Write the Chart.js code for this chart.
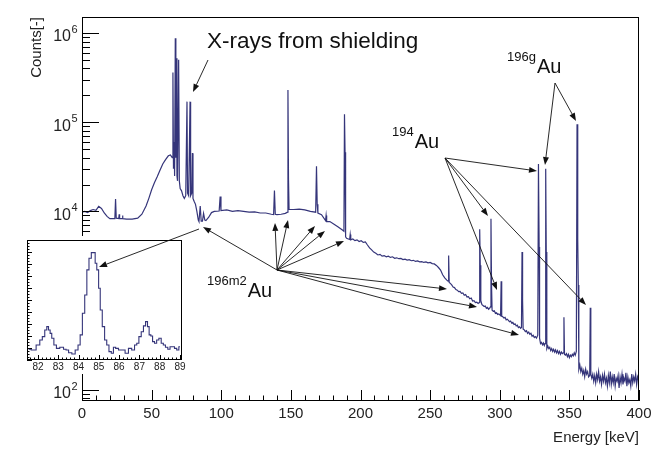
<!DOCTYPE html>
<html>
<head>
<meta charset="utf-8">
<script src="https://cdn.jsdelivr.net/npm/chart.js@4.4.1/dist/chart.umd.min.js"></script>
<style>
  html, body { margin: 0; padding: 0; background: #fff; }
  #wrap { position: relative; width: 660px; height: 453px; }
  #main { position: absolute; left: 0; top: 0; width: 660px; height: 453px; }
  #inset { position: absolute; left: 20px; top: 236px; width: 172px; height: 138px; }
</style>
</head>
<body>
<div id="wrap">
  <canvas id="main" width="660" height="453"></canvas>
  <canvas id="inset" width="172" height="138"></canvas>
</div>
<script>
// spectrum (energy in keV, counts per bin)
const energyKeV = [
  0, 2, 4, 6, 8, 10, 12, 14, 16, 18, 20, 23.6,
  24.1, 24.6, 26.4, 26.7, 27.0, 28.8, 29.1, 29.4, 32, 36, 40, 43,
  46, 48, 50, 52, 54, 56, 58, 60, 62, 63.5, 64.8, 65.3,
  65.7, 66.2, 66.5, 67.0, 67.4, 67.8, 68.2, 68.6, 69.4, 69.9, 70.5, 71.5,
  72.5, 73.5, 74.5, 75.4, 75.8, 76.6, 77.6, 78.0, 78.8, 79.3, 79.7, 80.5,
  81.5, 82.5, 83.5, 84.0, 84.9, 85.6, 86.5, 87.3, 88.2, 89, 91, 93,
  95, 98.5, 99.2, 99.8, 104, 108, 112, 116, 120, 124, 128, 132,
  136, 137.6, 138.2, 138.8, 140, 143, 146, 147.6, 147.9, 148.3, 148.7, 152,
  156, 160, 164, 167.8, 168.4, 168.9, 169.4, 172, 174.9, 175.3, 175.7, 178,
  181, 184, 187, 188.1, 188.5, 188.9, 189.3, 190, 192.2, 192.6, 193.0, 194.5,
  196, 197.5, 199, 200.5, 202, 203.5, 205, 206.5, 208, 209.5, 211, 212.5,
  214, 215.5, 217, 218.5, 220, 221.5, 223, 224.5, 226, 227.5, 229, 230.5,
  232, 233.5, 235, 236.5, 238, 239.5, 241, 242.5, 244, 245.5, 247, 248.5,
  250, 251.5, 253, 254.5, 256, 257.5, 259, 260.5, 262, 262.9, 263.3, 263.7,
  264.5, 265.5, 266.5, 267.5, 268.5, 269.5, 270.5, 271.5, 272.5, 273.5, 274.5, 275.5,
  276.5, 277.5, 278.5, 279.5, 280.5, 281.5, 282.5, 283.5, 284.5, 285.2, 285.6, 286.0,
  286.4, 287.2, 288, 288.8, 289.6, 290.4, 291.2, 292, 292.7, 293.3, 293.7, 294.1,
  294.5, 295.3, 296.1, 296.9, 297.7, 298.5, 299.3, 300.2, 300.6, 301.0, 301.4, 302.2,
  303, 303.8, 304.6, 305.4, 306.2, 307, 307.8, 308.6, 309.4, 310.2, 311, 311.8,
  312.6, 313.4, 314.2, 315, 315.6, 316.0, 316.4, 316.8, 317.6, 318.4, 319.2, 320,
  320.8, 321.6, 322.4, 323.2, 324, 324.8, 325.6, 326.4, 327.3, 327.8, 328.3, 328.6,
  329.3, 330, 330.7, 331.4, 332, 332.5, 333.0, 333.4, 333.8, 334.5, 335.2, 335.9,
  336.6, 337.3, 338, 338.7, 339.4, 340.1, 340.8, 341.5, 342.2, 342.9, 343.6, 344.3,
  345, 345.7, 346.1, 346.5, 347.2, 347.9, 348.6, 349.3, 350, 350.7, 351.4, 352.1,
  352.8, 353.5, 354.2, 355.0, 355.5, 356.0, 356.4, 356.8, 357.5, 358.2, 358.9, 359.6,
  360.3, 361.0, 361.7, 362.4, 363.1, 363.8, 364.6, 365.0, 365.4, 366.1, 366.8, 367.5,
  368.2, 368.9, 369.6, 370.3, 371.0, 371.7, 372.4, 373.1, 373.8, 374.5, 375.2, 375.9,
  376.6, 377.3, 378.0, 378.7, 379.4, 380.1, 380.8, 381.5, 382.2, 382.9, 383.6, 384.3,
  385.0, 385.7, 386.4, 387.1, 387.8, 388.5, 389.2, 389.9, 390.6, 391.3, 392.0, 392.7,
  393.4, 394.1, 394.8, 395.5, 396.2, 396.9, 397.6, 398.3, 399.0, 399.6, 400
];
const counts = [
  9800, 10000, 9700, 10200, 10500, 10300, 11400, 10800, 9600, 8800, 8300, 8300,
  13800, 8400, 8300, 9300, 8300, 8300, 9000, 8300, 8200, 8200, 8400, 9300,
  11500, 14000, 17500, 21000, 24500, 29000, 34000, 38000, 42000, 43000, 40000, 360000,
  30000, 60000, 25000, 870000, 40000, 520000, 25000, 22000, 500000, 22000, 18000, 17000,
  15000, 14000, 15000, 170000, 16000, 15000, 170000, 15000, 16000, 45000, 14000, 13000,
  12000, 10000, 8000, 7700, 11500, 7800, 7800, 9500, 8000, 7900, 8600, 9700,
  10000, 10100, 14700, 10200, 10400, 10000, 10200, 10000, 9800, 9900, 9600, 9600,
  9300, 9200, 17200, 9300, 9200, 9300, 9500, 9800, 230000, 23000, 10500, 10500,
  10600, 10400, 10000, 9800, 32000, 12000, 9600, 9200, 7900, 9000, 7700, 7700,
  7200, 6700, 6200, 6000, 123000, 46000, 5200, 5000, 4850, 5500, 4800, 4900,
  4700, 4800, 4600, 4700, 4500, 4550, 4200, 3900, 3700, 3500, 3400, 3250,
  3300, 3150, 3200, 3100, 3150, 3050, 3100, 2980, 3020, 2950, 2970, 2880,
  2920, 2850, 2880, 2800, 2830, 2750, 2790, 2720, 2740, 2680, 2720, 2650,
  2680, 2600, 2580, 2480, 2350, 2200, 1950, 1800, 1700, 1650, 3200, 1600,
  1560, 1500, 1420, 1400, 1330, 1310, 1260, 1270, 1210, 1220, 1150, 1170,
  1100, 1110, 1050, 1070, 990, 1000, 950, 960, 930, 950, 6300, 2500,
  1000, 900, 880, 860, 870, 820, 840, 800, 820, 850, 8300, 1500,
  780, 760, 770, 720, 730, 700, 710, 690, 680, 1650, 670, 660,
  640, 650, 610, 620, 600, 580, 590, 560, 570, 540, 550, 520,
  530, 500, 510, 490, 500, 3500, 1000, 480, 470, 450, 460, 430,
  445, 420, 430, 400, 410, 385, 395, 380, 410, 34000, 4000, 380,
  330, 340, 320, 335, 315, 330, 30000, 3500, 290, 310, 290, 300,
  275, 290, 270, 285, 265, 280, 260, 275, 255, 270, 250, 265,
  255, 260, 650, 250, 245, 255, 235, 250, 230, 245, 235, 250,
  240, 260, 245, 270, 95000, 5000, 1500, 170, 190, 160, 175, 150,
  165, 140, 170, 150, 160, 140, 145, 830, 150, 135, 150, 125,
  145, 120, 150, 130, 160, 125, 140, 115, 145, 125, 150, 120,
  135, 110, 145, 120, 160, 115, 140, 120, 150, 110, 135, 125,
  145, 105, 140, 120, 150, 115, 135, 125, 155, 110, 140, 120,
  130, 110, 150, 120, 140, 125, 150, 115, 140, 130, 145
];

// inset: zoom on the 82-89 keV region
const insetEnergy = [
  81.54, 81.79, 82.03, 82.15, 82.28, 82.39, 82.48, 82.56, 82.64, 82.72, 82.85, 82.97,
  83.18, 83.34, 83.43, 83.59, 83.75, 83.92, 84.03, 84.13, 84.25, 84.36, 84.46, 84.57,
  84.69, 84.79, 84.85, 84.95, 85.03, 85.11, 85.23, 85.34, 85.44, 85.56, 85.67, 85.77,
  85.89, 86.05, 86.21, 86.38, 86.54, 86.70, 86.82, 86.92, 87.03, 87.15, 87.25, 87.36,
  87.44, 87.52, 87.61, 87.69, 87.80, 87.90, 88.02, 88.13, 88.23, 88.34, 88.46, 88.56,
  88.67, 88.79, 88.89, 89.00
];
const insetCounts = [
  89, 83, 125, 167, 195, 250, 278, 250, 222, 181, 125, 97,
  106, 89, 83, 61, 50, 83, 125, 209, 389, 542, 751, 848,
  895, 895, 806, 751, 598, 417, 278, 167, 125, 70, 56, 106,
  97, 83, 83, 56, 97, 83, 125, 139, 195, 236, 284, 320,
  278, 209, 200, 153, 139, 167, 181, 139, 125, 106, 89, 111,
  111, 97, 83, 111
];

const yDecades = [2, 3, 4, 5, 6];   // labelled 10^n ticks
const FONT = "'Liberation Sans', Arial, Helvetica, sans-serif";
const LINE = '#35357a';
const INK = '#222';

function drawArrow(ctx, x1, y1, x2, y2) {
  const ang = Math.atan2(y2 - y1, x2 - x1);
  const L = 8, W = 3;
  const bx = x2 - L * Math.cos(ang), by = y2 - L * Math.sin(ang);
  ctx.beginPath();
  ctx.moveTo(x1, y1);
  ctx.lineTo(bx, by);
  ctx.stroke();
  ctx.beginPath();
  ctx.moveTo(x2, y2);
  ctx.lineTo(bx + W * Math.sin(ang), by - W * Math.cos(ang));
  ctx.lineTo(bx - W * Math.sin(ang), by + W * Math.cos(ang));
  ctx.closePath();
  ctx.fill();
}

function nuclide(ctx, sup, x, y) {
  ctx.textAlign = 'left';
  ctx.textBaseline = 'alphabetic';
  ctx.font = '13px ' + FONT;
  ctx.fillText(sup, x, y - 12);
  const w = ctx.measureText(sup).width;
  ctx.font = '20px ' + FONT;
  ctx.fillText('Au', x + w + 1, y);
}

// ROOT-like frame, inward ticks and the annotations
const mainDecor = {
  id: 'mainDecor',
  afterDraw(chart) {
    const ctx = chart.ctx, a = chart.chartArea;
    const xs = chart.scales.x, ys = chart.scales.y;
    ctx.save();
    ctx.strokeStyle = '#000';
    ctx.lineWidth = 1;
    ctx.strokeRect(a.left + 0.5, a.top + 0.5, a.right - a.left - 1, a.bottom - a.top - 1);

    ctx.beginPath();
    for (let e = 0; e <= 400; e += 10) {
      const px = Math.round(xs.getPixelForValue(e)) + 0.5;
      const len = e % 50 === 0 ? 11 : 5.5;
      ctx.moveTo(px, a.bottom);
      ctx.lineTo(px, a.bottom - len);
    }
    for (let d = 1; d <= 6; d++) {
      for (let m = 1; m <= 9; m++) {
        const v = m * Math.pow(10, d);
        if (v < ys.min || v > ys.max) continue;
        const py = Math.round(ys.getPixelForValue(v)) + 0.5;
        ctx.moveTo(a.left, py);
        ctx.lineTo(a.left + (m === 1 ? 17 : 8), py);
      }
    }
    ctx.stroke();

    ctx.fillStyle = INK;
    yDecades.forEach(d => {
      const py = ys.getPixelForValue(Math.pow(10, d));
      ctx.textBaseline = 'alphabetic';
      ctx.textAlign = 'right';
      ctx.font = '16px ' + FONT;
      ctx.fillText('10', 71, py + 8.5);
      ctx.textAlign = 'left';
      ctx.font = '11px ' + FONT;
      ctx.fillText(String(d), 71.5, py);
    });

    // annotations
    ctx.fillStyle = '#111';
    ctx.strokeStyle = '#111';
    ctx.lineWidth = 0.9;
    ctx.textAlign = 'left';
    ctx.textBaseline = 'alphabetic';
    ctx.font = '22.5px ' + FONT;
    ctx.fillText('X-rays from shielding', 207, 48);
    drawArrow(ctx, 208, 60, 193, 92);

    nuclide(ctx, '194', 392, 148);
    [[537, 171], [488, 216], [497, 290], [586, 305]].forEach(p => drawArrow(ctx, 445, 158, p[0], p[1]));

    nuclide(ctx, '196g', 507, 73);
    [[545, 165], [576, 121]].forEach(p => drawArrow(ctx, 555, 83, p[0], p[1]));

    nuclide(ctx, '196m2', 207, 297);
    [[203, 227], [275, 223], [288, 220], [315, 226], [325, 231], [344, 241],
     [447, 289], [477, 307], [519, 335]].forEach(p => drawArrow(ctx, 277, 270, p[0], p[1]));

    drawArrow(ctx, 199, 229, 99, 267);
    ctx.restore();
  }
};

new Chart(document.getElementById('main'), {
  type: 'line',
  data: {
    datasets: [{
      data: energyKeV.map((e, i) => ({ x: e, y: counts[i] })),
      borderColor: LINE,
      borderWidth: 1.2,
      pointRadius: 0,
      tension: 0,
      fill: false
    }]
  },
  options: {
    responsive: false,
    animation: false,
    devicePixelRatio: 1,
    layout: { padding: { left: 0, top: 17, right: 21, bottom: 0 } },
    scales: {
      x: {
        type: 'linear', min: 0, max: 400,
        grid: { display: false, drawTicks: false },
        border: { display: false },
        ticks: { stepSize: 50, autoSkip: false, maxRotation: 0, includeBounds: false,
                 padding: 4, color: INK, font: { family: FONT, size: 15 } },
        title: { display: true, text: 'Energy [keV]', align: 'end', color: INK,
                 font: { family: FONT, size: 15 }, padding: { top: 0, bottom: 6 } },
        afterFit(s) { s.height = 52; }
      },
      y: {
        type: 'logarithmic', min: 75, max: 1.51e6,
        grid: { display: false, drawTicks: false },
        border: { display: false },
        ticks: { display: false },
        title: { display: true, text: 'Counts[-]', align: 'end', color: INK,
                 font: { family: FONT, size: 15 }, padding: { top: 28, bottom: 0 } },
        afterFit(s) { s.width = 82; }
      }
    },
    plugins: { legend: { display: false }, tooltip: { enabled: false } }
  },
  plugins: [mainDecor]
});

// inset frame, ticks and the piece of the arrow that lands in it
const insetDecor = {
  id: 'insetDecor',
  beforeDraw(chart) {
    const ctx = chart.ctx;
    ctx.save();
    ctx.fillStyle = '#fff';
    ctx.fillRect(0, 0, chart.width, chart.height);
    ctx.restore();
  },
  afterDraw(chart) {
    const ctx = chart.ctx, a = chart.chartArea;
    const xs = chart.scales.x, ys = chart.scales.y;
    ctx.save();
    ctx.strokeStyle = '#000';
    ctx.lineWidth = 1;
    ctx.strokeRect(a.left + 0.5, a.top + 0.5, a.right - a.left - 1, a.bottom - a.top - 1);
    ctx.beginPath();
    for (let k = 816; k <= 890; k += 2) {
      const px = Math.round(xs.getPixelForValue(k / 10)) + 0.5;
      const len = k % 10 === 0 ? 5 : 2.5;
      ctx.moveTo(px, a.bottom);
      ctx.lineTo(px, a.bottom - len);
    }
    for (let v = 0; v <= 1000; v += 25) {
      const py = Math.round(ys.getPixelForValue(v)) + 0.5;
      ctx.moveTo(a.left, py);
      ctx.lineTo(a.left + (v % 100 === 0 ? 5 : 2.5), py);
    }
    ctx.stroke();
    ctx.fillStyle = '#111';
    ctx.strokeStyle = '#111';
    ctx.lineWidth = 0.9;
    drawArrow(ctx, 199 - 20, 229 - 236, 99 - 20, 267 - 236);
    ctx.restore();
  }
};

new Chart(document.getElementById('inset'), {
  type: 'line',
  data: {
    datasets: [{
      data: insetEnergy.map((e, i) => ({ x: e, y: insetCounts[i] })),
      borderColor: LINE,
      borderWidth: 1.1,
      pointRadius: 0,
      stepped: 'middle',
      fill: false
    }]
  },
  options: {
    responsive: false,
    animation: false,
    devicePixelRatio: 1,
    layout: { padding: { left: 7, top: 4, right: 10, bottom: 0 } },
    scales: {
      x: {
        type: 'linear', min: 81.46, max: 89.1,
        grid: { display: false, drawTicks: false },
        border: { display: false },
        ticks: { stepSize: 1, autoSkip: false, maxRotation: 0, includeBounds: false,
                 padding: 1, color: INK, font: { family: FONT, size: 10 } },
        afterFit(s) { s.height = 14; }
      },
      y: { type: 'linear', min: 0, max: 1000, display: false }
    },
    plugins: { legend: { display: false }, tooltip: { enabled: false } }
  },
  plugins: [insetDecor]
});
</script>
</body>
</html>
